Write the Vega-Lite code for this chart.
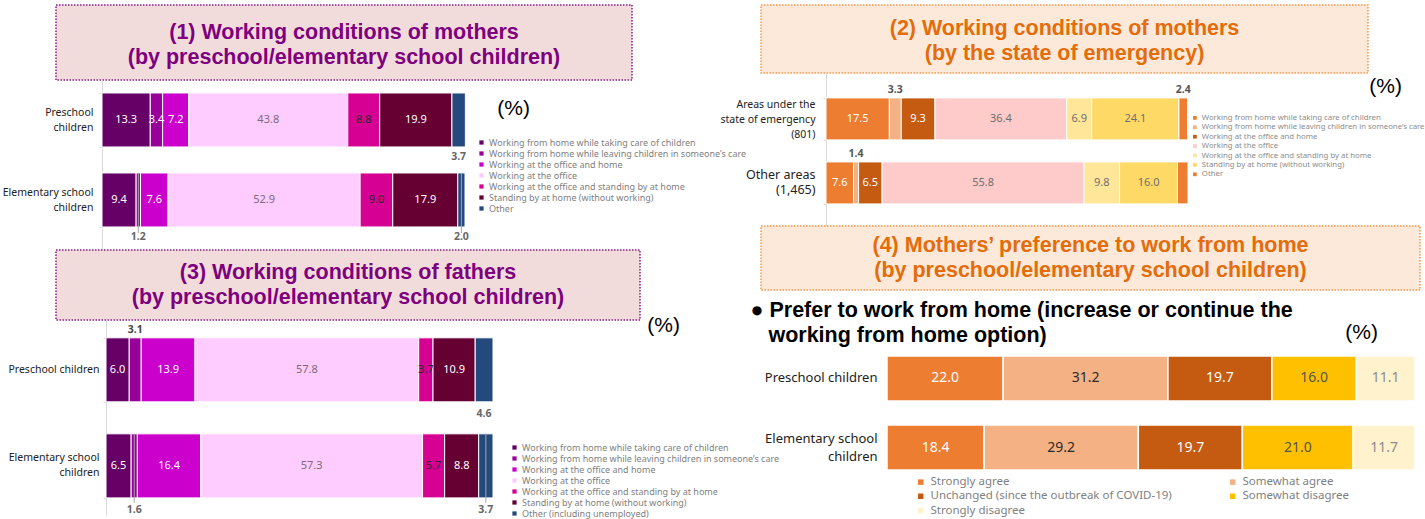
{
  "$schema": "https://vega.github.io/schema/vega-lite/v6.json",
  "background": "white",
  "padding": {"left": 2, "top": 4, "right": 0, "bottom": 0},
  "config": {"view": {"stroke": null}, "font": "Noto Sans"},
  "datasets": {
    "mothers_school": [
      {"grp": "Preschool children", "cat": "Working from home while taking care of children", "k": 1, "v": 13.3},
      {"grp": "Preschool children", "cat": "Working from home while leaving children in someone’s care", "k": 2, "v": 3.4},
      {"grp": "Preschool children", "cat": "Working at the office and home", "k": 3, "v": 7.2},
      {"grp": "Preschool children", "cat": "Working at the office", "k": 4, "v": 43.8},
      {"grp": "Preschool children", "cat": "Working at the office and standing by at home", "k": 5, "v": 8.8},
      {"grp": "Preschool children", "cat": "Standing by at home (without working)", "k": 6, "v": 19.9},
      {"grp": "Preschool children", "cat": "Other", "k": 7, "v": 3.7},
      {"grp": "Elementary school children", "cat": "Working from home while taking care of children", "k": 1, "v": 9.4},
      {"grp": "Elementary school children", "cat": "Working from home while leaving children in someone’s care", "k": 2, "v": 1.2},
      {"grp": "Elementary school children", "cat": "Working at the office and home", "k": 3, "v": 7.6},
      {"grp": "Elementary school children", "cat": "Working at the office", "k": 4, "v": 52.9},
      {"grp": "Elementary school children", "cat": "Working at the office and standing by at home", "k": 5, "v": 9.0},
      {"grp": "Elementary school children", "cat": "Standing by at home (without working)", "k": 6, "v": 17.9},
      {"grp": "Elementary school children", "cat": "Other", "k": 7, "v": 2.0}
    ],
    "mothers_emergency": [
      {"grp": "Areas under the state of emergency (801)", "cat": "Working from home while taking care of children", "k": 1, "v": 17.5},
      {"grp": "Areas under the state of emergency (801)", "cat": "Working from home while leaving children in someone’s care", "k": 2, "v": 3.3},
      {"grp": "Areas under the state of emergency (801)", "cat": "Working at the office and home", "k": 3, "v": 9.3},
      {"grp": "Areas under the state of emergency (801)", "cat": "Working at the office", "k": 4, "v": 36.4},
      {"grp": "Areas under the state of emergency (801)", "cat": "Working at the office and standing by at home", "k": 5, "v": 6.9},
      {"grp": "Areas under the state of emergency (801)", "cat": "Standing by at home (without working)", "k": 6, "v": 24.1},
      {"grp": "Areas under the state of emergency (801)", "cat": "Other", "k": 7, "v": 2.4},
      {"grp": "Other areas (1,465)", "cat": "Working from home while taking care of children", "k": 1, "v": 7.6},
      {"grp": "Other areas (1,465)", "cat": "Working from home while leaving children in someone’s care", "k": 2, "v": 1.4},
      {"grp": "Other areas (1,465)", "cat": "Working at the office and home", "k": 3, "v": 6.5},
      {"grp": "Other areas (1,465)", "cat": "Working at the office", "k": 4, "v": 55.8},
      {"grp": "Other areas (1,465)", "cat": "Working at the office and standing by at home", "k": 5, "v": 9.8},
      {"grp": "Other areas (1,465)", "cat": "Standing by at home (without working)", "k": 6, "v": 16.0},
      {"grp": "Other areas (1,465)", "cat": "Other", "k": 7, "v": 2.9}
    ],
    "fathers_school": [
      {"grp": "Preschool children", "cat": "Working from home while taking care of children", "k": 1, "v": 6.0},
      {"grp": "Preschool children", "cat": "Working from home while leaving children in someone’s care", "k": 2, "v": 3.1},
      {"grp": "Preschool children", "cat": "Working at the office and home", "k": 3, "v": 13.9},
      {"grp": "Preschool children", "cat": "Working at the office", "k": 4, "v": 57.8},
      {"grp": "Preschool children", "cat": "Working at the office and standing by at home", "k": 5, "v": 3.7},
      {"grp": "Preschool children", "cat": "Standing by at home (without working)", "k": 6, "v": 10.9},
      {"grp": "Preschool children", "cat": "Other (including unemployed)", "k": 7, "v": 4.6},
      {"grp": "Elementary school children", "cat": "Working from home while taking care of children", "k": 1, "v": 6.5},
      {"grp": "Elementary school children", "cat": "Working from home while leaving children in someone’s care", "k": 2, "v": 1.6},
      {"grp": "Elementary school children", "cat": "Working at the office and home", "k": 3, "v": 16.4},
      {"grp": "Elementary school children", "cat": "Working at the office", "k": 4, "v": 57.3},
      {"grp": "Elementary school children", "cat": "Working at the office and standing by at home", "k": 5, "v": 5.7},
      {"grp": "Elementary school children", "cat": "Standing by at home (without working)", "k": 6, "v": 8.8},
      {"grp": "Elementary school children", "cat": "Other (including unemployed)", "k": 7, "v": 3.7}
    ],
    "preference": [
      {"grp": "Preschool children", "cat": "Strongly agree", "k": 1, "v": 22.0},
      {"grp": "Preschool children", "cat": "Somewhat agree", "k": 2, "v": 31.2},
      {"grp": "Preschool children", "cat": "Unchanged (since the outbreak of COVID-19)", "k": 3, "v": 19.7},
      {"grp": "Preschool children", "cat": "Somewhat disagree", "k": 4, "v": 16.0},
      {"grp": "Preschool children", "cat": "Strongly disagree", "k": 5, "v": 11.1},
      {"grp": "Elementary school children", "cat": "Strongly agree", "k": 1, "v": 18.4},
      {"grp": "Elementary school children", "cat": "Somewhat agree", "k": 2, "v": 29.2},
      {"grp": "Elementary school children", "cat": "Unchanged (since the outbreak of COVID-19)", "k": 3, "v": 19.7},
      {"grp": "Elementary school children", "cat": "Somewhat disagree", "k": 4, "v": 21.0},
      {"grp": "Elementary school children", "cat": "Strongly disagree", "k": 5, "v": 11.7}
    ]
  },
  "spacing": 705,
  "bounds": "flush",
  "resolve": {"scale": {"color": "independent"}, "legend": {"color": "independent"}},
  "hconcat": [
    {
      "vconcat": [
        {
          "width": 576, "height": 75,
          "data": {"values": [{"t": "(1) Working conditions of mothers\n(by preschool/elementary school children)"}]},
          "mark": {"type": "text", "lineBreak": "\n", "font": "Liberation Sans", "fontSize": 21.5, "fontWeight": "bold", "color": "#7f007f", "lineHeight": 25, "baseline": "middle", "dy": -9.5},
          "encoding": {"text": {"field": "t", "type": "nominal"}},
          "view": {"fill": "#f2dcdb", "stroke": "#8b1a8b", "strokeDash": [1.5, 1.5], "strokeWidth": 1.5}
        },
        {
          "width": 409, "height": 170,
          "data": {"name": "mothers_school"},
          "title": {"text": "(%)", "anchor": "end", "frame": "group", "orient": "top", "offset": -44, "dx": 65, "font": "Liberation Sans", "fontSize": 21, "fontWeight": "normal", "color": "black"},
          "encoding": {
            "y": {"field": "grp", "type": "nominal", "sort": ["Preschool children", "Elementary school children"],
              "scale": {"paddingInner": 0.325, "paddingOuter": 0.225, "align": 0.36},
              "axis": {"title": null, "offset": -46, "labelExpr": "datum.value == 'Preschool children' ? ['Preschool', 'children'] : datum.value == 'Elementary school children' ? ['Elementary school', 'children'] : ''", "labelAlign": "right", "labelBaseline": "middle", "labelPadding": 6, "labelOffset": -7, "labelFontSize": 10.5, "labelColor": "#222222", "labelLineHeight": 14.5, "tickBand": "extent", "tickSize": 3, "tickColor": "#d9d9d9", "domainColor": "#d9d9d9"}}
          },
          "layer": [
            {"mark": {"type": "bar", "stroke": "white", "strokeWidth": 1},
             "encoding": {
               "x": {"field": "v", "type": "quantitative", "stack": "zero", "scale": {"domain": [0, 100], "range": [46, 409]}, "axis": null},
               "color": {"field": "cat", "type": "nominal",
                 "scale": {"domain": ["Working from home while taking care of children", "Working from home while leaving children in someone’s care", "Working at the office and home", "Working at the office", "Working at the office and standing by at home", "Standing by at home (without working)", "Other"],
                   "range": ["#660066", "#990099", "#cc00cc", "#ffccff", "#d60093", "#660033", "#244a7d"]},
                 "legend": {"orient": "none", "legendX": 421, "legendY": 58, "title": null, "symbolType": "square", "symbolSize": 18, "symbolStrokeWidth": 0, "labelFontSize": 9, "labelColor": "#7f7f7f", "rowPadding": 1, "labelOffset": 3, "padding": 0, "labelLimit": 400}},
               "order": {"field": "k", "type": "quantitative"}
             }},
            {"mark": {"type": "tick", "orient": "vertical", "size": 60, "thickness": 1, "yOffset": 3, "color": "#a6a6a6"},
             "encoding": {
               "x": {"field": "v", "type": "quantitative", "stack": "zero", "bandPosition": 0.5, "axis": null},
               "detail": {"field": "cat"},
               "order": {"field": "k", "type": "quantitative"},
               "opacity": {"condition": {"test": "datum.grp == 'Elementary school children' && (datum.k == 7 || datum.v < 2)", "value": 1}, "value": 0}
             }},
            {"mark": {"type": "text", "fontSize": 11},
             "encoding": {
               "x": {"field": "v", "type": "quantitative", "stack": "zero", "bandPosition": 0.5, "axis": null},
               "detail": {"field": "cat"},
               "order": {"field": "k", "type": "quantitative"},
               "text": {"condition": {"test": "!(datum.k == 7 || datum.v < 2)", "field": "v", "type": "quantitative", "format": ".1f"}, "value": ""},
               "color": {"condition": [{"test": "datum.k == 4", "value": "#7a6a7a"}, {"test": "datum.k == 5", "value": "#2b2b2b"}], "value": "white"}
             }},
            {"mark": {"type": "text", "fontSize": 10.5, "fontWeight": "bold", "dy": 37, "color": "#666666"},
             "encoding": {
               "x": {"field": "v", "type": "quantitative", "stack": "zero", "bandPosition": 0.5, "axis": null},
               "detail": {"field": "cat"},
               "order": {"field": "k", "type": "quantitative"},
               "text": {"condition": {"test": "datum.k == 7 || datum.v < 2", "field": "v", "type": "quantitative", "format": ".1f"}, "value": ""}
             }}
          ]
        },
        {
          "width": 584, "height": 70,
          "data": {"values": [{"t": "(3) Working conditions of fathers\n(by preschool/elementary school children)"}]},
          "mark": {"type": "text", "lineBreak": "\n", "font": "Liberation Sans", "fontSize": 21.5, "fontWeight": "bold", "color": "#7f007f", "lineHeight": 25, "baseline": "middle", "dy": -12},
          "encoding": {"text": {"field": "t", "type": "nominal"}},
          "view": {"fill": "#f2dcdb", "stroke": "#8b1a8b", "strokeDash": [1.5, 1.5], "strokeWidth": 1.5}
        },
        {
          "width": 437, "height": 195,
          "data": {"name": "fathers_school"},
          "title": {"text": "(%)", "anchor": "end", "frame": "group", "orient": "top", "offset": -20.5, "dx": 187, "font": "Liberation Sans", "fontSize": 21, "fontWeight": "normal", "color": "black"},
          "encoding": {
            "y": {"field": "grp", "type": "nominal", "sort": ["Preschool children", "Elementary school children"],
              "scale": {"paddingInner": 0.333, "paddingOuter": 0.182, "align": 0.51},
              "axis": {"title": null, "offset": -50, "labelExpr": "datum.value == 'Preschool children' ? 'Preschool children' : datum.value == 'Elementary school children' ? ['Elementary school', 'children'] : ''", "labelAlign": "right", "labelBaseline": "middle", "labelPadding": 4, "labelOffset": {"condition": {"test": "datum.value == 'Preschool children'", "value": 0}, "value": -8}, "labelFontSize": 10.5, "labelColor": "#222222", "labelLineHeight": 15, "tickBand": "extent", "tickSize": 3, "tickColor": "#d9d9d9", "domainColor": "#d9d9d9"}}
          },
          "layer": [
            {"mark": {"type": "bar", "stroke": "white", "strokeWidth": 1},
             "encoding": {
               "x": {"field": "v", "type": "quantitative", "stack": "zero", "scale": {"domain": [0, 100], "range": [50, 437]}, "axis": null},
               "color": {"field": "cat", "type": "nominal",
                 "scale": {"domain": ["Working from home while taking care of children", "Working from home while leaving children in someone’s care", "Working at the office and home", "Working at the office", "Working at the office and standing by at home", "Standing by at home (without working)", "Other (including unemployed)"],
                   "range": ["#660066", "#990099", "#cc00cc", "#ffccff", "#d60093", "#660033", "#244a7d"]},
                 "legend": {"orient": "none", "legendX": 454, "legendY": 123, "title": null, "symbolType": "square", "symbolSize": 18, "symbolStrokeWidth": 0, "labelFontSize": 9, "labelColor": "#7f7f7f", "rowPadding": 1, "labelOffset": 3, "padding": 0, "labelLimit": 400}},
               "order": {"field": "k", "type": "quantitative"}
             }},
            {"mark": {"type": "tick", "orient": "vertical", "size": 69, "thickness": 1, "yOffset": 2.5, "color": "#a6a6a6"},
             "encoding": {
               "x": {"field": "v", "type": "quantitative", "stack": "zero", "bandPosition": 0.5, "axis": null},
               "detail": {"field": "cat"},
               "order": {"field": "k", "type": "quantitative"},
               "opacity": {"condition": {"test": "datum.grp == 'Elementary school children' && (datum.k == 7 || datum.v < 2)", "value": 1}, "value": 0}
             }},
            {"mark": {"type": "text", "fontSize": 11},
             "encoding": {
               "x": {"field": "v", "type": "quantitative", "stack": "zero", "bandPosition": 0.5, "axis": null},
               "detail": {"field": "cat"},
               "order": {"field": "k", "type": "quantitative"},
               "text": {"condition": {"test": "!(datum.k == 7 || datum.v < 2 || (datum.k == 2 && datum.grp == 'Preschool children'))", "field": "v", "type": "quantitative", "format": ".1f"}, "value": ""},
               "color": {"condition": [{"test": "datum.k == 4", "value": "#7a6a7a"}, {"test": "datum.k == 5", "value": "#2b2b2b"}], "value": "white"}
             }},
            {"mark": {"type": "text", "fontSize": 10.5, "fontWeight": "bold", "dy": -40, "color": "#444444"},
             "encoding": {
               "x": {"field": "v", "type": "quantitative", "stack": "zero", "bandPosition": 0.5, "axis": null},
               "detail": {"field": "cat"},
               "order": {"field": "k", "type": "quantitative"},
               "text": {"condition": {"test": "datum.k == 2 && datum.grp == 'Preschool children'", "field": "v", "type": "quantitative", "format": ".1f"}, "value": ""}
             }},
            {"mark": {"type": "text", "fontSize": 10.5, "fontWeight": "bold", "dy": 44, "color": "#666666"},
             "encoding": {
               "x": {"field": "v", "type": "quantitative", "stack": "zero", "bandPosition": 0.5, "axis": null},
               "detail": {"field": "cat"},
               "order": {"field": "k", "type": "quantitative"},
               "text": {"condition": {"test": "datum.k == 7 || datum.v < 2", "field": "v", "type": "quantitative", "format": ".1f"}, "value": ""}
             }}
          ]
        }
      ],
      "spacing": 0,
      "bounds": "flush",
      "resolve": {"scale": {"color": "independent"}, "legend": {"color": "independent"}}
    },
    {
      "vconcat": [
        {
          "width": 607, "height": 68,
          "data": {"values": [{"t": "(2) Working conditions of mothers\n(by the state of emergency)"}]},
          "mark": {"type": "text", "lineBreak": "\n", "font": "Liberation Sans", "fontSize": 21.5, "fontWeight": "bold", "color": "#e46c0a", "lineHeight": 25, "baseline": "middle", "dy": -10},
          "encoding": {"text": {"field": "t", "type": "nominal"}},
          "view": {"fill": "#fde9d9", "stroke": "#f79646", "strokeDash": [1.5, 1.5], "strokeWidth": 1.5}
        },
        {
          "width": 427, "height": 153,
          "data": {"name": "mothers_emergency"},
          "title": {"text": "(%)", "anchor": "end", "frame": "group", "orient": "top", "offset": -29, "dx": 214, "font": "Liberation Sans", "fontSize": 21, "fontWeight": "normal", "color": "black"},
          "encoding": {
            "y": {"field": "grp", "type": "nominal", "sort": ["Areas under the state of emergency (801)", "Other areas (1,465)"],
              "scale": {"paddingInner": 0.344, "paddingOuter": 0.367, "align": 0.53},
              "axis": {"title": null, "offset": -65, "labelExpr": "datum.value == 'Other areas (1,465)' ? ['Other areas', '(1,465)'] : datum.value == 'Areas under the state of emergency (801)' ? ['Areas under the', 'state of emergency', '(801)'] : ''", "labelAlign": "right", "labelBaseline": "middle", "labelPadding": 8, "labelFontSize": {"condition": {"test": "datum.value == 'Other areas (1,465)'", "value": 12.5}, "value": 10.5}, "labelOffset": {"condition": {"test": "datum.value == 'Other areas (1,465)'", "value": -8}, "value": -14.5}, "labelColor": "#222222", "labelLineHeight": 15, "tickBand": "extent", "tickSize": 3, "tickColor": "#d9d9d9", "domainColor": "#d9d9d9"}}
          },
          "layer": [
            {"mark": {"type": "bar", "stroke": "white", "strokeWidth": 1},
             "encoding": {
               "x": {"field": "v", "type": "quantitative", "stack": "zero", "scale": {"domain": [0, 100], "range": [65, 427]}, "axis": null},
               "color": {"field": "cat", "type": "nominal",
                 "scale": {"domain": ["Working from home while taking care of children", "Working from home while leaving children in someone’s care", "Working at the office and home", "Working at the office", "Working at the office and standing by at home", "Standing by at home (without working)", "Other"],
                   "range": ["#ed7d31", "#f4b183", "#c55a11", "#ffcaca", "#ffe699", "#ffd966", "#ed7d31"]},
                 "legend": {"orient": "none", "legendX": 430, "legendY": 41, "title": null, "symbolType": "square", "symbolSize": 14, "symbolStrokeWidth": 0, "labelFontSize": 7.8, "labelColor": "#8c8c8c", "rowPadding": 0.4, "labelOffset": 3, "padding": 0, "labelLimit": 400}},
               "order": {"field": "k", "type": "quantitative"}
             }},
            {"mark": {"type": "text", "fontSize": 11},
             "encoding": {
               "x": {"field": "v", "type": "quantitative", "stack": "zero", "bandPosition": 0.5, "axis": null},
               "detail": {"field": "cat"},
               "order": {"field": "k", "type": "quantitative"},
               "text": {"condition": {"test": "datum.v >= 4", "field": "v", "type": "quantitative", "format": ".1f"}, "value": ""},
               "color": {"condition": {"test": "datum.k == 1 || datum.k == 3", "value": "white"}, "value": "#6f6f6f"}
             }},
            {"mark": {"type": "text", "fontSize": 10.5, "fontWeight": "bold", "dy": -29, "color": "#555555"},
             "encoding": {
               "x": {"field": "v", "type": "quantitative", "stack": "zero", "bandPosition": 0.5, "axis": null},
               "detail": {"field": "cat"},
               "order": {"field": "k", "type": "quantitative"},
               "text": {"condition": {"test": "datum.v < 4 && !(datum.k == 7 && datum.grp == 'Other areas (1,465)')", "field": "v", "type": "quantitative", "format": ".1f"}, "value": ""}
             }}
          ]
        },
        {
          "width": 659, "height": 64,
          "data": {"values": [{"t": "(4) Mothers’ preference to work from home\n(by preschool/elementary school children)"}]},
          "mark": {"type": "text", "lineBreak": "\n", "font": "Liberation Sans", "fontSize": 21.5, "fontWeight": "bold", "color": "#e46c0a", "lineHeight": 25, "baseline": "middle", "dy": -12},
          "encoding": {"text": {"field": "t", "type": "nominal"}},
          "view": {"fill": "#fde9d9", "stroke": "#f79646", "strokeDash": [1.5, 1.5], "strokeWidth": 1.5}
        },
        {
          "width": 654, "height": 189,
          "data": {"name": "preference"},
          "title": {"text": "(%)", "anchor": "end", "frame": "group", "orient": "top", "offset": -53, "dx": -37, "font": "Liberation Sans", "fontSize": 21, "fontWeight": "normal", "color": "black"},
          "encoding": {
            "y": {"field": "grp", "type": "nominal", "sort": ["Preschool children", "Elementary school children"],
              "scale": {"paddingInner": 0.348, "paddingOuter": 0.543, "align": 0.88},
              "axis": {"offset": -126, "labelExpr": "datum.value == 'Preschool children' ? 'Preschool children' : datum.value == 'Elementary school children' ? ['Elementary school', 'children'] : ''", "labelAlign": "right", "labelBaseline": "middle", "labelPadding": 10, "labelOffset": {"condition": {"test": "datum.value == 'Preschool children'", "value": 0}, "value": -9}, "labelFontSize": 13, "labelColor": "#222222", "labelLineHeight": 18, "ticks": false, "domain": false,
                "title": ["● Prefer to work from home (increase or continue the", "\u200b\u00a0\u00a0\u00a0working from home option)"], "titleAngle": 0, "titleAlign": "left", "titleBaseline": "alphabetic", "titleX": -137, "titleY": 26, "titleFont": "Liberation Sans", "titleFontSize": 21.5, "titleFontWeight": "bold", "titleColor": "black", "titleLineHeight": 25}}
          },
          "layer": [
            {"mark": {"type": "bar", "stroke": "white", "strokeWidth": 1.5},
             "encoding": {
               "x": {"field": "v", "type": "quantitative", "stack": "zero", "scale": {"domain": [0, 100], "range": [126, 654]}, "axis": null},
               "color": {"field": "cat", "type": "nominal",
                 "scale": {"domain": ["Strongly agree", "Somewhat agree", "Unchanged (since the outbreak of COVID-19)", "Somewhat disagree", "Strongly disagree"],
                   "range": ["#ed7d31", "#f4b183", "#c55a11", "#ffc000", "#fff2cc"]},
                 "legend": {"orient": "none", "legendX": 154, "legendY": 186, "title": null, "direction": "horizontal", "columns": 2, "columnPadding": 55, "symbolType": "square", "symbolSize": 30, "symbolStrokeWidth": 0, "labelFontSize": 11.5, "labelColor": "#7f7f7f", "rowPadding": 1.5, "labelOffset": 4, "padding": 0, "labelLimit": 400}},
               "order": {"field": "k", "type": "quantitative"}
             }},
            {"mark": {"type": "text", "fontSize": 14},
             "encoding": {
               "x": {"field": "v", "type": "quantitative", "stack": "zero", "bandPosition": 0.5, "axis": null},
               "detail": {"field": "cat"},
               "order": {"field": "k", "type": "quantitative"},
               "text": {"field": "v", "type": "quantitative", "format": ".1f"},
               "color": {"condition": [{"test": "datum.k == 1 || datum.k == 3", "value": "white"}, {"test": "datum.k == 2", "value": "#2b2b2b"}, {"test": "datum.k == 4", "value": "#555555"}], "value": "#8c8c8c"}
             }}
          ]
        }
      ],
      "spacing": 0,
      "bounds": "flush",
      "resolve": {"scale": {"color": "independent"}, "legend": {"color": "independent"}}
    }
  ]
}
